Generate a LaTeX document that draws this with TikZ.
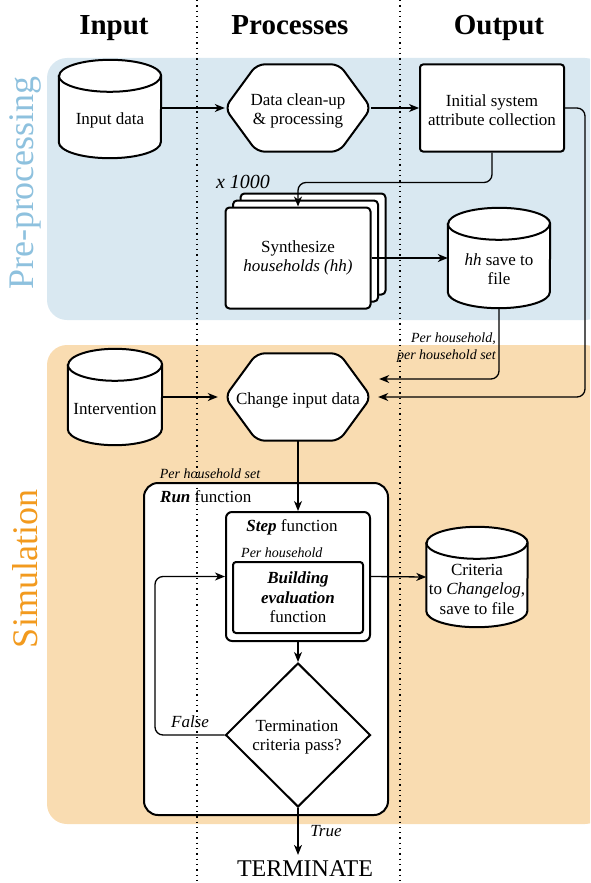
\documentclass[tikz,border=0pt]{standalone}
\usepackage{fontspec}
\setmainfont{Liberation Serif}
\usetikzlibrary{shapes.geometric,arrows.meta,calc}

\definecolor{prebg}{HTML}{D9E8F1}
\definecolor{pretx}{HTML}{8EC1DE}
\definecolor{simbg}{HTML}{F9DCB1}
\definecolor{simtx}{HTML}{F29A1E}

% database cylinder: name, x, y, width, height, text, text shift
\newcommand{\dbnode}[7]{%
  \node[minimum width=#4pt, minimum height=#5pt] (#1) at (#2,#3) {};
  \draw[outline, fill=white] ($(#1.north west)+(0,16)$) -- ($(#1.south west)+(0,-16)$)
    arc[start angle=180, end angle=360, x radius={#4pt/2}, y radius=16pt]
    -- ($(#1.north east)+(0,16)$)
    arc[start angle=0, end angle=180, x radius={#4pt/2}, y radius=16pt] -- cycle;
  \draw[outline] ($(#1.north west)+(0,16)$)
    arc[start angle=180, end angle=360, x radius={#4pt/2}, y radius=16pt];
  \node (#1t) at ($(#1)+(0,#7)$) {#6};
}
% hexagonal process: name, x, y, text
\newcommand{\hexnode}[4]{%
  \node[minimum width=146pt, minimum height=87pt] (#1) at (#2,#3) {};
  \draw[outline, fill=white, rounded corners=8pt] (#1.north) -- ($(#1.north east)+(-32,0)$)
    -- (#1.east) -- ($(#1.south east)+(-32,0)$) -- ($(#1.south west)+(32,0)$)
    -- (#1.west) -- ($(#1.north west)+(32,0)$) -- cycle;
  \node (#1t) at ($(#1)+(0,3)$) {#4};
}

\begin{document}
\begin{tikzpicture}[x=1pt, y=-1pt,
  every node/.style={font=\fontsize{17}{19.5}\selectfont, align=center, inner sep=0pt},
  outline/.style={line width=2pt},
  box/.style={draw, line width=2pt, fill=white, rounded corners=3pt},
  arr/.style={line width=1.3pt, -{Stealth[length=10pt, width=8pt, inset=3pt]}},
  small/.style={font=\fontsize{14}{16}\selectfont\itshape},
  head/.style={font=\fontsize{29}{32}\selectfont\bfseries},
  lane/.style={line width=1.3pt, dash pattern=on 1.3pt off 4pt},
]
\useasboundingbox (0,0) rectangle (590,883);
\clip (0,0) rectangle (590,883);

% phase backgrounds
\fill[prebg, rounded corners=20pt] (47,58) rectangle (605,320);
\fill[simbg, rounded corners=20pt] (47,345) rectangle (605,824);
\node[rotate=90, font=\fontsize{36}{38}\selectfont, text=pretx] (pre) at (25,183) {Pre-processing};
\node[rotate=90, font=\fontsize{36}{38}\selectfont, text=simtx] (sim) at (25,569) {Simulation};

% column headers
\node[head, anchor=base] (hin) at (114,35) {Input};
\node[head, anchor=base] (hproc) at (290,35) {Processes};
\node[head, anchor=base] (hout) at (499,35) {Output};

% pre-processing
\dbnode{indata}{110}{109}{102}{98}{Input data}{11}
\hexnode{clean}{298}{108}{Data clean-up\\\& processing}
\node[box, minimum width=144pt, minimum height=87pt] (init) at (492,108) {};
\node (initt) at (492,110) {Initial system\\attribute collection};

\node[font=\fontsize{20}{22}\selectfont\itshape] (times) at (243,182) {x 1000};
\node[box, rounded corners=4pt, minimum width=145pt, minimum height=101pt] (card3) at (313,244) {};
\node[box, rounded corners=4pt, minimum width=145pt, minimum height=101pt] (card2) at (305.5,251) {};
\node[box, rounded corners=4pt, minimum width=145pt, minimum height=101pt] (synth) at (298,258) {Synthesize\\\textit{households (hh)}};
\dbnode{hh}{499}{258}{102}{100}{\textit{hh} save to\\file}{11}

% simulation
\dbnode{interv}{115}{397}{94}{96}{Intervention}{12}
\hexnode{chg}{298}{397}{Change input data}

\node[draw, line width=2pt, fill=white, rounded corners=14pt, minimum width=244pt, minimum height=332pt] (run) at (266,649) {};
\node[anchor=west] (runlbl) at (160,497) {\textbf{\textit{Run}} function};
\node[draw, line width=2pt, fill=white, rounded corners=6pt, minimum width=144pt, minimum height=129pt] (step) at (298,576.5) {};
\node (steplbl) at (292,527) {\textbf{\textit{Step}} function};
\node[small, anchor=west] (perhh) at (241,553) {Per household};
\node[draw, line width=2pt, fill=white, rounded corners=3pt, minimum width=130pt, minimum height=71pt] (build) at (298,597.5) {\textbf{\textit{Building}}\\\textbf{\textit{evaluation}}\\function};
\dbnode{crit}{477}{577}{101}{100}{Criteria\\to \textit{Changelog},\\save to file}{12}
\node[draw, diamond, aspect=1, line width=2pt, fill=white, minimum width=145pt, minimum height=144pt] (term) at (298,735) {};
\node (termt) at (297,737) {Termination\\criteria pass?};
\node[font=\fontsize{24}{26}\selectfont] (finish) at (305,869) {TERMINATE};

% connectors
\draw[arr] (indata.east |- clean.west) -- (clean.west);
\draw[arr] (clean.east) -- (init.west);
\draw[arr, rounded corners=8pt] (init.south) -- ++(0,30) -| (synth.north);
\draw[arr] (synth.east) -- (hh.west);

\coordinate (rail) at (585,250);
\coordinate (chgin1) at ($(chg.east)+(8,-18)$);
\coordinate (chgin2) at ($(chg.east)+(7,0)$);
\draw[arr, rounded corners=8pt] (hh.south) |- (chgin1);
\draw[arr, rounded corners=8pt] (init.east) -| (rail) |- (chgin2);
\node[small, anchor=base east] (lblhh1) at (496,342) {Per household,};
\node[small, anchor=base east] (lblhh2) at (496,359) {per household set};

\draw[arr, shorten >=7pt] (interv.east) -- (chg.west);
\draw[arr] (chg.south) -- (step.north);
\node[small] (lblset) at (210,474) {Per household set};
\draw[arr] (step.east) -- (crit.west);
\draw[arr] (step.south) -- (term.north);
\coordinate (loopc) at (155,650);
\draw[arr, rounded corners=8pt] (term.west) -| (loopc) |- (step.west);
\node[font=\fontsize{17}{19}\selectfont\itshape] (lblfalse) at (190,722) {False};
\draw[arr] (term.south) -- ([yshift=6pt]term.south |- finish.north);
\node[font=\fontsize{17}{19}\selectfont\itshape] (lbltrue) at (326,831) {True};

% lane separators
\draw[lane] (197,0) -- (197,883);
\draw[lane] (400,0) -- (400,883);
\end{tikzpicture}
\end{document}
